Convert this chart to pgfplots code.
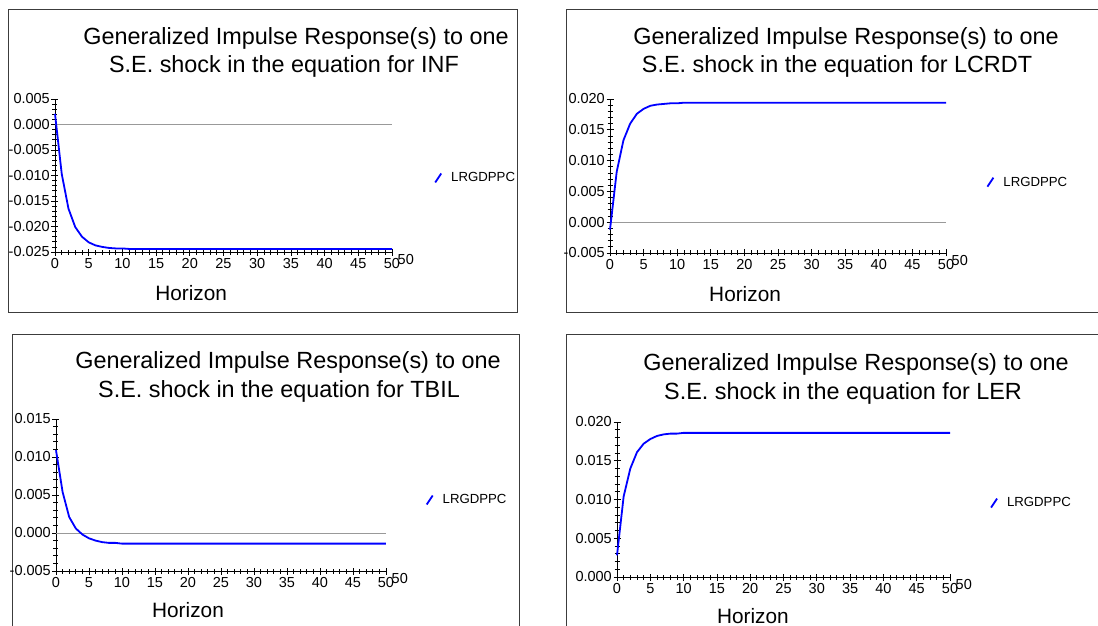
\documentclass[border=0pt]{standalone}
\usepackage{fontspec}
\setmainfont{Liberation Sans}
\usepackage{pgfplots}
\pgfplotsset{compat=1.18}
\definecolor{irfblue}{RGB}{0,0,255}
\definecolor{framegray}{RGB}{60,60,60}

\pgfplotsset{
  irf/.style={
    scale only axis,
    axis lines=left,
    axis line style={-, black, line width=0.9pt},
    clip=false,
    xmin=0, xmax=50,
    xtick={0,5,...,50},
    minor x tick num=4,
    minor y tick num=4,
    tick align=center,
    major tick length=7pt,
    minor tick length=5pt,
    tick style={black, line width=0.8pt},
    scaled y ticks=false,
    /pgf/number format/assume math mode=true,
    yticklabel style={/pgf/number format/fixed, /pgf/number format/precision=3,
      /pgf/number format/fixed zerofill, inner sep=1.5pt},
    ticklabel style={font=\fontsize{14.5}{16}\selectfont},
    xticklabel style={inner sep=2.5pt},
    xlabel={Horizon},
    label style={font=\fontsize{20.8}{24}\selectfont},
    legend image code/.code={\draw[#1] (0pt,-4.5pt) -- (6pt,4.5pt);
      \path[draw=none, fill=none] (0pt,0pt) -- (14pt,0pt);},
    legend style={draw=none, fill=none, anchor=west, inner sep=0pt,
      font=\fontsize{13.2}{15}\selectfont},
    legend cell align=left,
  },
  resp/.style={color=irfblue, line width=1.8pt},
  zero/.style={color=gray!80, line width=0.5pt, forget plot},
}

\begin{document}
\begin{tikzpicture}[x=1pt, y=1pt]
\useasboundingbox (0,0) rectangle (1098,625);
\clip (0,0) rectangle (1098,625);

% panel frames
\draw[framegray, line width=1pt] (8,313) rectangle (517,615);
\draw[framegray, line width=1pt] (566,313) rectangle (1110,615);
\draw[framegray, line width=1pt] (12,-20) rectangle (519,291);
\draw[framegray, line width=1pt] (566,-20) rectangle (1110,291);

% titles
\begin{scope}[every node/.style={anchor=base, inner sep=0pt, font=\fontsize{23.4}{28}\selectfont}]
\node at (296,580) {Generalized Impulse Response(s) to one};
\node at (284,552) {S.E. shock in the equation for INF};
\node at (846,580) {Generalized Impulse Response(s) to one};
\node at (837,552) {S.E. shock in the equation for LCRDT};
\node at (288,257) {Generalized Impulse Response(s) to one};
\node at (279,228) {S.E. shock in the equation for TBIL};
\node at (856,255) {Generalized Impulse Response(s) to one};
\node at (843,226) {S.E. shock in the equation for LER};
\end{scope}

% shock in INF
\begin{axis}[irf, at={(55pt,373pt)}, anchor=south west, width=337pt, height=153pt,
  ymin=-0.025, ymax=0.005, ytick={-0.025,-0.020,-0.015,-0.010,-0.005,0,0.005},
  xlabel style={at={(axis description cs:0.404,-0.314)}, anchor=base},
  legend style={at={(axis description cs:1.125,0.484)}}]
\addplot[zero] coordinates {(0,0) (50,0)};
\addplot[resp] coordinates {
  (0,0.0021) (1,-0.0097) (2,-0.0165) (3,-0.0201) (4,-0.0220) (5,-0.0231)
  (6,-0.0237) (7,-0.0240) (8,-0.0242) (9,-0.0243) (10,-0.0243) (11,-0.0244)
  (12,-0.0244) (15,-0.0244) (20,-0.0244) (25,-0.0244) (30,-0.0244)
  (35,-0.0244) (40,-0.0244) (45,-0.0244) (50,-0.0244)};
\addlegendentry{LRGDPPC}
\node[anchor=north west, inner sep=2.5pt, xshift=3pt, font=\fontsize{14.5}{16}\selectfont] at (rel axis cs:1,0) {50};
\end{axis}

% shock in LCRDT
\begin{axis}[irf, at={(610pt,372pt)}, anchor=south west, width=336pt, height=154pt,
  ymin=-0.005, ymax=0.020, ytick={-0.005,0,0.005,0.010,0.015,0.020},
  xlabel style={at={(axis description cs:0.402,-0.318)}, anchor=base},
  legend style={at={(axis description cs:1.12,0.46)}}]
\addplot[zero] coordinates {(0,0) (50,0)};
\addplot[resp] coordinates {
  (0,-0.0012) (1,0.0082) (2,0.0133) (3,0.0160) (4,0.0176) (5,0.0184)
  (6,0.0189) (7,0.0191) (8,0.0192) (9,0.0193) (10,0.0193) (11,0.0194)
  (12,0.0194) (15,0.0194) (20,0.0194) (25,0.0194) (30,0.0194)
  (35,0.0194) (40,0.0194) (45,0.0194) (50,0.0194)};
\addlegendentry{LRGDPPC}
\node[anchor=north west, inner sep=2.5pt, xshift=3pt, font=\fontsize{14.5}{16}\selectfont] at (rel axis cs:1,0) {50};
\end{axis}

% shock in TBIL
\begin{axis}[irf, at={(56pt,54pt)}, anchor=south west, width=330pt, height=152pt,
  ymin=-0.005, ymax=0.015, ytick={-0.005,0,0.005,0.010,0.015},
  xlabel style={at={(axis description cs:0.40,-0.309)}, anchor=base},
  legend style={at={(axis description cs:1.12,0.467)}}]
\addplot[zero] coordinates {(0,0) (50,0)};
\addplot[resp] coordinates {
  (0,0.0109) (1,0.0054) (2,0.0021) (3,0.0006) (4,-0.0002) (5,-0.0007)
  (6,-0.0010) (7,-0.0012) (8,-0.0013) (9,-0.0013) (10,-0.0014) (11,-0.0014)
  (12,-0.0014) (15,-0.0014) (20,-0.0014) (25,-0.0014) (30,-0.0014)
  (35,-0.0014) (40,-0.0014) (45,-0.0014) (50,-0.0014)};
\addlegendentry{LRGDPPC}
\node[anchor=north west, inner sep=2.5pt, xshift=3pt, font=\fontsize{14.5}{16}\selectfont] at (rel axis cs:1,0) {50};
\end{axis}

% shock in LER
\begin{axis}[irf, at={(617pt,48pt)}, anchor=south west, width=333pt, height=155pt,
  ymin=0, ymax=0.020, ytick={0,0.005,0.010,0.015,0.020},
  xlabel style={at={(axis description cs:0.408,-0.297)}, anchor=base},
  legend style={at={(axis description cs:1.12,0.477)}}]
\addplot[resp] coordinates {
  (0,0.0028) (1,0.0104) (2,0.0140) (3,0.0161) (4,0.0172) (5,0.0178)
  (6,0.0182) (7,0.0184) (8,0.0185) (9,0.0185) (10,0.0186) (11,0.0186)
  (12,0.0186) (15,0.0186) (20,0.0186) (25,0.0186) (30,0.0186)
  (35,0.0186) (40,0.0186) (45,0.0186) (50,0.0186)};
\addlegendentry{LRGDPPC}
\node[anchor=north west, inner sep=2.5pt, xshift=3pt, font=\fontsize{14.5}{16}\selectfont] at (rel axis cs:1,0) {50};
\end{axis}
\end{tikzpicture}
\end{document}
